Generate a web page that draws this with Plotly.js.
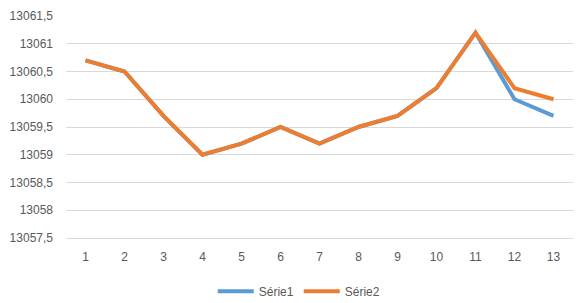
<!DOCTYPE html>
<html><head><meta charset="utf-8">
<script src="https://cdn.plot.ly/plotly-3.0.1.min.js"></script>
<style>html,body{margin:0;padding:0;background:#fff}#chart{width:576px;height:303px}</style>
</head><body><div id="chart"></div>
<script>
const categories = [1,2,3,4,5,6,7,8,9,10,11,12,13];
const serie1 = [13060.7,13060.5,13059.7,13059.0,13059.2,13059.5,13059.2,13059.5,13059.7,13060.2,13061.2,13060.0,13059.7];
const serie2 = [13060.7,13060.5,13059.7,13059.0,13059.2,13059.5,13059.2,13059.5,13059.7,13060.2,13061.2,13060.2,13060.0];
const yTickVals = [13057.5,13058,13058.5,13059,13059.5,13060,13060.5,13061,13061.5];
const yTickText = ["13057,5","13058","13058,5","13059","13059,5","13060","13060,5","13061","13061,5"];

const font = {family:"Liberation Sans, Arial, sans-serif", size:12, color:"#595959"};
const traces = [
  {x:categories, y:serie1, name:"Série1", type:"scatter", mode:"lines", line:{color:"#5B9BD5", width:4}},
  {x:categories, y:serie2, name:"Série2", type:"scatter", mode:"lines", line:{color:"#ED7D31", width:4}}
];
const layout = {
  width:576, height:303,
  margin:{l:66, r:3, t:16, b:65, autoexpand:false},
  paper_bgcolor:"#fff", plot_bgcolor:"#fff",
  font: font,
  showlegend:true,
  legend:{orientation:"h", x:0.46, xanchor:"center", y:-0.175, yanchor:"top", font:font, itemwidth:36, traceorder:"normal"},
  xaxis:{range:[0.5,13.5], tickvals:categories, ticktext:categories.map(String), showgrid:false, zeroline:false,
         showline:true, linecolor:"#D9D9D9", linewidth:1, ticks:"", ticklabelstandoff:8, tickfont:font, fixedrange:true, automargin:false},
  yaxis:{range:[13057.5,13061.5], tickvals:yTickVals, ticktext:yTickText, showgrid:true, gridcolor:"#D9D9D9", gridwidth:1,
         zeroline:false, showline:false, ticks:"", ticklabelstandoff:12, tickfont:font, fixedrange:true, automargin:false}
};
Plotly.newPlot("chart", traces, layout, {displayModeBar:false, staticPlot:true});
</script></body></html>
